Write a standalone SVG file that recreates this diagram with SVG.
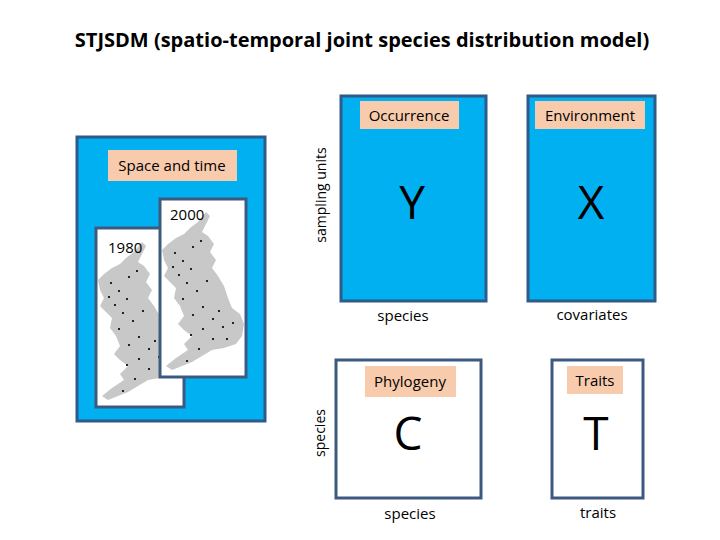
<svg xmlns="http://www.w3.org/2000/svg" width="720" height="540" viewBox="0 0 720 540">
<style>
.t{font-family:"Open Sans","Liberation Sans",sans-serif;fill:#000}
.blue{fill:#00b0f0;stroke:#2f5b8a;stroke-width:3}
.white{fill:#fff;stroke:#3c5a80;stroke-width:3}
.lab{fill:#f8cbad}
.uk{fill:#c8c8c8}
.dot{fill:#222}
</style>
<defs>
<g id="uk">
<path class="uk" d="M44,2 L48,6 L44,14 L40,22 L46,26 L52,34 L48,42 L54,50 L50,58 L56,66 L62,76 L66,88 L70,98 L78,104 L82,114 L80,126 L74,134 L62,138 L50,140 L40,146 L30,152 L20,156 L10,160 L4,156 L14,148 L26,140 L22,134 L30,126 L22,120 L16,114 L22,106 L18,96 L12,88 L14,78 L8,72 L2,66 L6,58 L2,50 L0,40 L6,34 L14,28 L22,24 L28,18 L36,12 Z"/>
<g class="dot">
<rect x="12" y="42" width="2" height="2"/><rect x="20" y="50" width="2" height="2"/><rect x="28" y="58" width="2" height="2"/><rect x="16" y="64" width="2" height="2"/><rect x="24" y="72" width="2" height="2"/><rect x="34" y="80" width="2" height="2"/><rect x="20" y="88" width="2" height="2"/><rect x="40" y="96" width="2" height="2"/><rect x="30" y="104" width="2" height="2"/><rect x="50" y="108" width="2" height="2"/><rect x="60" y="116" width="2" height="2"/><rect x="40" y="118" width="2" height="2"/><rect x="28" y="124" width="2" height="2"/><rect x="50" y="128" width="2" height="2"/><rect x="64" y="128" width="2" height="2"/><rect x="36" y="138" width="2" height="2"/><rect x="24" y="150" width="2" height="2"/><rect x="44" y="70" width="2" height="2"/><rect x="30" y="36" width="2" height="2"/><rect x="56" y="100" width="2" height="2"/><rect x="70" y="112" width="2" height="2"/><rect x="38" y="30" width="2" height="2"/><rect x="10" y="56" width="2" height="2"/>
</g>
</g>
</defs>
<text class="t" x="362" y="47" font-size="20" font-weight="bold" text-anchor="middle">STJSDM (spatio-temporal joint species distribution model)</text>
<g id="space">
<rect class="blue" x="77" y="137" width="188" height="284"/>
<rect class="lab" x="108" y="150" width="129" height="31"/>
<text class="t" x="172" y="171" font-size="15" text-anchor="middle">Space and time</text>
<rect class="white" x="96" y="228" width="88" height="179"/>
<use href="#uk" x="98" y="240"/>
<text class="t" x="108" y="253" font-size="15">1980</text>
<rect class="white" x="160" y="199" width="86" height="178"/>
<use href="#uk" x="162" y="210"/>
<text class="t" x="170" y="220" font-size="15">2000</text>
</g>
<g id="Y">
<rect class="blue" x="341" y="96" width="145" height="205"/>
<rect class="lab" x="360" y="101" width="99" height="28"/>
<text class="t" x="409" y="121" font-size="15" text-anchor="middle">Occurrence</text>
<text class="t" x="412" y="219" font-size="46" text-anchor="middle">Y</text>
<text class="t" x="403" y="321" font-size="15" text-anchor="middle">species</text>
<text class="t" x="326" y="195" font-size="14" text-anchor="middle" transform="rotate(-90 326 195)">sampling units</text>
</g>
<g id="X">
<rect class="blue" x="528" y="96" width="127" height="205"/>
<rect class="lab" x="535" y="101" width="110" height="28"/>
<text class="t" x="590" y="121" font-size="15" text-anchor="middle">Environment</text>
<text class="t" x="591" y="219" font-size="46" text-anchor="middle">X</text>
<text class="t" x="592" y="320" font-size="15" text-anchor="middle">covariates</text>
</g>
<g id="C">
<rect class="white" x="336" y="360" width="145" height="138"/>
<rect class="lab" x="365" y="366" width="91" height="31"/>
<text class="t" x="410" y="387" font-size="15" text-anchor="middle">Phylogeny</text>
<text class="t" x="408" y="450" font-size="46" text-anchor="middle">C</text>
<text class="t" x="410" y="519" font-size="15" text-anchor="middle">species</text>
<text class="t" x="325" y="433" font-size="14" text-anchor="middle" transform="rotate(-90 325 433)">species</text>
</g>
<g id="T">
<rect class="white" x="552" y="360" width="91" height="138"/>
<rect class="lab" x="567" y="366" width="56" height="28"/>
<text class="t" x="595" y="386" font-size="15" text-anchor="middle">Traits</text>
<text class="t" x="596" y="450" font-size="46" text-anchor="middle">T</text>
<text class="t" x="598" y="518" font-size="15" text-anchor="middle">traits</text>
</g>
<g id="connectors"/>
</svg>
